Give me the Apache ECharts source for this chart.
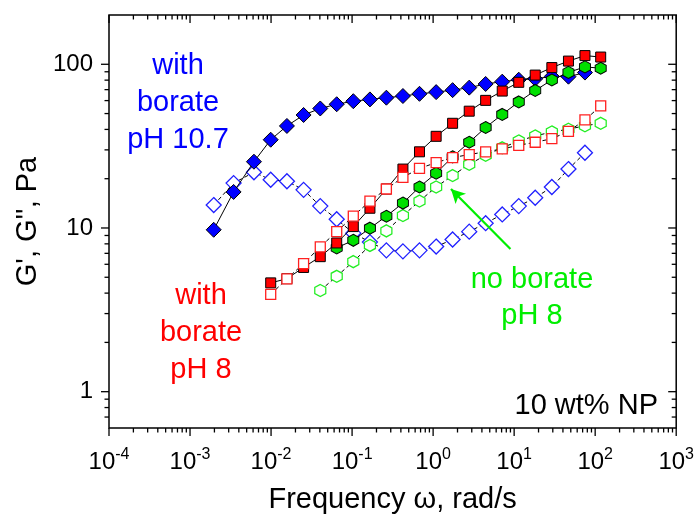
<!DOCTYPE html>
<html>
<head>
<meta charset="utf-8">
<script src="https://cdn.jsdelivr.net/npm/echarts@6/dist/echarts.min.js"></script>
<style>
  html, body { margin: 0; padding: 0; background: #fff; }
  #chart { width: 697px; height: 519px; }
</style>
</head>
<body>
<div id="chart"></div>
<script>
// frequencies (rad/s)
var freqHigh = [0.00196, 0.00345, 0.00615, 0.0099, 0.0157, 0.0252, 0.0405, 0.0646, 0.1035, 0.166, 0.265, 0.424, 0.679, 1.09, 1.74, 2.79, 4.45, 7.13, 11.4, 18.2, 29.2, 46.8, 74.8];
var freqRed = [0.0099, 0.0157, 0.0252, 0.0405, 0.0646, 0.1035, 0.166, 0.265, 0.424, 0.679, 1.09, 1.74, 2.79, 4.45, 7.13, 11.4, 18.2, 29.2, 46.8, 74.8, 117];
var freqGreenG1 = [0.0646, 0.1035, 0.166, 0.265, 0.424, 0.679, 1.09, 1.74, 2.79, 4.45, 7.13, 11.4, 18.2, 29.2, 46.8, 74.8, 117];
var freqGreenG2 = [0.0405, 0.0646, 0.1035, 0.166, 0.265, 0.424, 0.679, 1.09, 1.74, 2.79, 4.45, 7.13, 11.4, 18.2, 29.2, 46.8, 74.8, 117];

// with borate pH 10.7
var g1High = [9.75, 16.6, 25.4, 34.6, 42, 49, 53.7, 57, 59.5, 61, 62.5, 64, 66, 67.6, 69.5, 72, 75.8, 78.3, 80.5, 81.5, 84.3, 84, 89];
var g2High = [13.8, 18.8, 21.9, 19.7, 19.3, 17.1, 13.6, 11.3, 9.3, 8.2, 7.3, 7.2, 7.3, 7.7, 8.5, 9.5, 10.7, 12.1, 13.6, 15.3, 17.8, 22.9, 28.8];
// with borate pH 8
var g1Red = [4.62, 4.9, 5.74, 6.68, 8.1, 10.2, 13.2, 17.3, 22.9, 29.2, 36.3, 43.6, 51.7, 60.2, 68.6, 77.6, 85.9, 95.5, 104.6, 113, 110.7];
var g2Red = [3.93, 4.89, 6.06, 7.67, 9.5, 11.8, 14.6, 17.3, 20.4, 23.1, 25.1, 26.9, 28.1, 29.2, 30.4, 32, 33.4, 35.1, 38.9, 45.7, 55.7];
// no borate pH 8
var g1Green = [7.56, 8.41, 9.97, 11.8, 14.2, 17.8, 21.6, 27.2, 33.4, 41.1, 49.4, 58.9, 69.2, 80.2, 89.2, 96.4, 94.6];
var g2Green = [4.15, 5.07, 6.23, 7.82, 9.6, 11.9, 14.6, 17.8, 20.9, 24.5, 27.8, 30.9, 34, 36.5, 38.6, 40.1, 42.1, 43.6];

// arrow pointing at the no-borate G'' curve: [tail, head]
var arrowPts = [[9.0, 7.43], [1.66, 17.3]];

var xMin = 1e-4, xMax = 1e3;
var yMin = 0.6, yMax = 200;

var FONT = 'Liberation Sans, Arial, sans-serif';
var hexagon = 'path://M0,-1L0.866,-0.5L0.866,0.5L0,1L-0.866,0.5L-0.866,-0.5Z';

function pairs(xs, ys) {
    var out = [];
    for (let i = 0; i < xs.length; i++) {
        out.push([xs[i], ys[i]]);
    }
    return out;
}

function isPow10(v) {
    var l = Math.log10(v);
    return Math.abs(l - Math.round(l)) < 1e-6;
}

// tick lists (major + minor) for the log axes
var xTicks = [];
for (let e = -4; e <= 3; e++) {
    xTicks.push([Math.pow(10, e), 1, 1]);
    if (e < 3) {
        for (let m = 2; m <= 9; m++) xTicks.push([m * Math.pow(10, e), 1, 0]);
    }
}
var yTicks = [];
[0.7, 0.8, 0.9].forEach(function (v) { yTicks.push([1, v, 0]); });
for (let e = 0; e <= 2; e++) {
    yTicks.push([1, Math.pow(10, e), 1]);
    if (e < 2) {
        for (let m = 2; m <= 9; m++) yTicks.push([1, m * Math.pow(10, e), 0]);
    }
}

function tickLine(x1, y1, x2, y2) {
    return {type: 'line', shape: {x1: x1, y1: y1, x2: x2, y2: y2}, style: {stroke: '#000', lineWidth: 1.3}};
}

function renderXTick(params, api) {
    var v = api.value(0);
    var len = api.value(2) ? 8 : 4.5;
    var pb = api.coord([v, yMin]);
    var pt = api.coord([v, yMax]);
    return {type: 'group', children: [
        tickLine(pb[0], pb[1], pb[0], pb[1] + len),
        tickLine(pt[0], pt[1], pt[0], pt[1] + len)
    ]};
}

function renderYTick(params, api) {
    var v = api.value(1);
    var len = api.value(2) ? 8 : 4.5;
    var pl = api.coord([xMin, v]);
    var pr = api.coord([xMax, v]);
    return {type: 'group', children: [
        tickLine(pl[0] - len, pl[1], pl[0], pl[1]),
        tickLine(pr[0] - len, pr[1], pr[0], pr[1])
    ]};
}

function dataSeries(name, data, symbol, size, fill, border, borderW, dashed, z) {
    return {
        name: name,
        type: 'line',
        data: data,
        symbol: symbol,
        symbolSize: size,
        showAllSymbol: true,
        z: z,
        itemStyle: {color: fill, borderColor: border, borderWidth: borderW},
        lineStyle: {color: '#000', width: 1, type: dashed ? [4, 3] : 'solid'},
        emphasis: {disabled: true},
        animation: false
    };
}

var chartDom = document.getElementById('chart');
var myChart = echarts.init(chartDom);
var option;

option = {
    animation: false,
    grid: {
        left: 109, right: 17, top: 15, bottom: 84,
        show: true, borderColor: '#000', borderWidth: 1.5, backgroundColor: 'transparent'
    },
    xAxis: {
        type: 'log', logBase: 10, min: xMin, max: xMax,
        name: 'Frequency \u03c9, rad/s',
        nameLocation: 'middle', nameGap: 57,
        nameTextStyle: {fontFamily: FONT, fontSize: 29, color: '#000'},
        axisLine: {show: false},
        axisTick: {show: false},
        splitLine: {show: false},
        minorTick: {show: false},
        axisLabel: {
            margin: 19,
            showMinLabel: true, showMaxLabel: true,
            formatter: function (v) {
                if (!isPow10(v)) return '';
                return '{b|10}{s|' + Math.round(Math.log10(v)) + '}';
            },
            rich: {
                b: {fontFamily: FONT, fontSize: 24, color: '#000', lineHeight: 30},
                s: {fontFamily: FONT, fontSize: 16, color: '#000', lineHeight: 16, verticalAlign: 'top'}
            }
        }
    },
    yAxis: {
        type: 'log', logBase: 10, min: yMin, max: yMax,
        name: "G', G'', Pa",
        nameLocation: 'middle', nameGap: 60,
        nameTextStyle: {fontFamily: FONT, fontSize: 29, color: '#000'},
        axisLine: {show: false},
        axisTick: {show: false},
        splitLine: {show: false},
        minorTick: {show: false},
        axisLabel: {
            margin: 16,
            fontFamily: FONT, fontSize: 24, color: '#000',
            formatter: function (v) {
                if (!isPow10(v)) return '';
                return String(Math.round(v));
            }
        }
    },
    graphic: [
        {type: 'text', x: 178, y: 47, silent: true,
            style: {text: 'with\nborate\npH 10.7', fill: '#0000ff', font: '29px ' + FONT, align: 'center', verticalAlign: 'top', lineHeight: 37}},
        {type: 'text', x: 201, y: 277, silent: true,
            style: {text: 'with\nborate\npH 8', fill: '#ff0000', font: '29px ' + FONT, align: 'center', verticalAlign: 'top', lineHeight: 37}},
        {type: 'text', x: 532, y: 262, silent: true,
            style: {text: 'no borate\npH 8', fill: '#00ee00', font: '29px ' + FONT, align: 'center', verticalAlign: 'top', lineHeight: 36}},
        {type: 'text', x: 658, y: 406, silent: true,
            style: {text: '10 wt% NP', fill: '#000', font: '29px ' + FONT, align: 'right', verticalAlign: 'middle'}}
    ],
    series: [
        dataSeries("G'' pH 10.7", pairs(freqHigh, g2High), 'diamond', 15, '#fff', '#2020ff', 1.3, true, 3),
        dataSeries("G' pH 10.7", pairs(freqHigh, g1High), 'diamond', 15, '#0000ff', '#000', 1, false, 4),
        (function () {
            var s = dataSeries("G'' no borate", pairs(freqGreenG2, g2Green), hexagon, [11, 12], '#fff', '#22ee22', 1.3, true, 5);
            s.markLine = {
                silent: true,
                symbol: ['none', 'arrow'],
                symbolSize: [11, 14],
                label: {show: false},
                lineStyle: {color: '#00ee00', width: 2.2, type: 'solid'},
                data: [[{coord: arrowPts[0]}, {coord: arrowPts[1]}]],
                animation: false
            };
            return s;
        })(),
        dataSeries("G' no borate", pairs(freqGreenG1, g1Green), hexagon, [11, 12], '#00e000', '#000', 1, false, 6),
        dataSeries("G' pH 8", pairs(freqRed, g1Red), 'rect', 10, '#ff0000', '#000', 1, false, 7),
        dataSeries("G'' pH 8", pairs(freqRed, g2Red), 'rect', 10, '#fff', '#ff2020', 1.3, true, 8),
        {type: 'custom', coordinateSystem: 'cartesian2d', data: xTicks, renderItem: renderXTick, silent: true, z: 10, animation: false},
        {type: 'custom', coordinateSystem: 'cartesian2d', data: yTicks, renderItem: renderYTick, silent: true, z: 10, animation: false}
    ]
};

option && myChart.setOption(option);

window.addEventListener('resize', myChart.resize);
</script>
</body>
</html>
